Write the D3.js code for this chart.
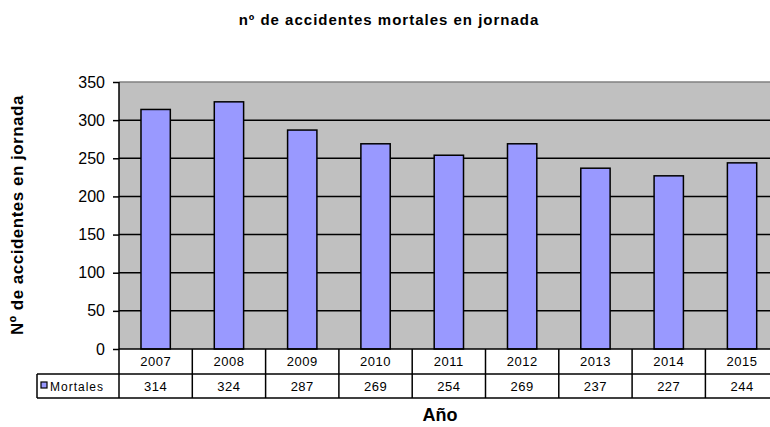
<!DOCTYPE html>
<html>
<head>
<meta charset="utf-8">
<script src="https://cdn.jsdelivr.net/npm/d3@7"></script>
<style>
  body { margin: 0; background: #fff; }
  svg { display: block; font-family: "Liberation Sans", Arial, sans-serif; }
</style>
</head>
<body>
<svg width="770" height="427"></svg>
<script>
  // data
  var years = ["2007", "2008", "2009", "2010", "2011", "2012", "2013", "2014", "2015"];
  var mortales = [314, 324, 287, 269, 254, 269, 237, 227, 244];
  var yTicks = [0, 50, 100, 150, 200, 250, 300, 350];
  var seriesName = "Mortales";

  var svg = d3.select("svg");

  // plot box (runs off the right side like the original)
  var plotLeft = 119, plotTop = 82, plotBottom = 349;
  var plotRight = plotLeft + 9 * 73.3;
  var row1 = 374, row2 = 398, legendLeft = 37;

  var x = d3.scaleBand().domain(years).range([plotLeft, plotRight]).paddingInner(0).paddingOuter(0);
  var y = d3.scaleLinear().domain([0, 350]).range([plotBottom, plotTop]);
  var barW = x.bandwidth() * 0.4;

  // background
  svg.append("rect")
    .attr("x", plotLeft).attr("y", plotTop)
    .attr("width", plotRight - plotLeft).attr("height", plotBottom - plotTop)
    .attr("fill", "#c0c0c0");

  // gridlines
  svg.append("g").selectAll("line")
    .data(yTicks.filter(function(d){ return d > 0 && d < 350; }))
    .enter().append("line")
    .attr("x1", plotLeft).attr("x2", plotRight)
    .attr("y1", function(d){ return y(d); })
    .attr("y2", function(d){ return y(d); })
    .attr("stroke", "#000").attr("stroke-width", 1.5);

  // top border
  svg.append("line")
    .attr("x1", plotLeft).attr("x2", plotRight)
    .attr("y1", plotTop).attr("y2", plotTop)
    .attr("stroke", "#808080").attr("stroke-width", 1.5);

  // bars
  svg.append("g").selectAll("rect")
    .data(mortales)
    .enter().append("rect")
    .attr("x", function(d, i){ return x(years[i]) + (x.bandwidth() - barW) / 2; })
    .attr("y", function(d){ return y(d); })
    .attr("width", barW)
    .attr("height", function(d){ return plotBottom - y(d); })
    .attr("fill", "#9999ff")
    .attr("stroke", "#000").attr("stroke-width", 1.5);

  // y axis
  var yAxis = d3.axisLeft(y).tickValues(yTicks).tickSize(6).tickPadding(8);
  var ga = svg.append("g").attr("transform", "translate(" + plotLeft + ",0)").call(yAxis);
  ga.select(".domain").attr("stroke", "#000").attr("stroke-width", 1.5).attr("d", "M0," + plotTop + "V" + plotBottom);
  ga.selectAll(".tick line").attr("stroke", "#000").attr("stroke-width", 1.5);
  ga.selectAll(".tick text")
    .attr("font-size", "16px").attr("fill", "#000")
    .attr("font-family", "Liberation Sans, Arial, sans-serif");

  // data table
  var t = svg.append("g").attr("stroke", "#000").attr("stroke-width", 1.5);
  t.append("line").attr("x1", plotLeft).attr("x2", plotRight).attr("y1", plotBottom).attr("y2", plotBottom);
  t.append("line").attr("x1", legendLeft).attr("x2", plotRight).attr("y1", row1).attr("y2", row1);
  t.append("line").attr("x1", legendLeft).attr("x2", plotRight).attr("y1", row2).attr("y2", row2);
  t.append("line").attr("x1", legendLeft).attr("x2", legendLeft).attr("y1", row1).attr("y2", row2);
  t.selectAll(".v")
    .data(years)
    .enter().append("line")
    .attr("x1", function(d){ return x(d) + x.bandwidth(); })
    .attr("x2", function(d){ return x(d) + x.bandwidth(); })
    .attr("y1", plotBottom).attr("y2", row2);
  t.append("line").attr("x1", plotLeft).attr("x2", plotLeft).attr("y1", plotBottom).attr("y2", row2);

  svg.append("g").selectAll("text")
    .data(years)
    .enter().append("text")
    .attr("x", function(d){ return x(d) + x.bandwidth() / 2; })
    .attr("y", 366)
    .attr("text-anchor", "middle")
    .attr("font-size", "13px").attr("letter-spacing", "0.5px")
    .text(function(d){ return d; });

  svg.append("g").selectAll("text")
    .data(mortales)
    .enter().append("text")
    .attr("x", function(d, i){ return x(years[i]) + x.bandwidth() / 2; })
    .attr("y", 391)
    .attr("text-anchor", "middle")
    .attr("font-size", "13px").attr("letter-spacing", "0.5px")
    .text(function(d){ return d; });

  // legend key
  svg.append("rect")
    .attr("x", 41).attr("y", 382).attr("width", 6).attr("height", 6)
    .attr("fill", "#9999ff").attr("stroke", "#000").attr("stroke-width", 1.2);
  svg.append("text")
    .attr("x", 50).attr("y", 391)
    .attr("font-size", "12px").attr("letter-spacing", "1px")
    .text(seriesName);

  // titles
  svg.append("text")
    .attr("x", 389).attr("y", 25)
    .attr("text-anchor", "middle")
    .attr("font-size", "15px").attr("font-weight", "bold").attr("letter-spacing", "1px")
    .text("nº de accidentes mortales en jornada");

  svg.append("text")
    .attr("transform", "translate(23,215) rotate(-90)")
    .attr("text-anchor", "middle")
    .attr("font-size", "17px").attr("font-weight", "bold").attr("letter-spacing", "0.5px")
    .text("Nº de accidentes en jornada");

  svg.append("text")
    .attr("x", 440).attr("y", 421)
    .attr("text-anchor", "middle")
    .attr("font-size", "18px").attr("font-weight", "bold")
    .text("Año");
</script>
</body>
</html>
